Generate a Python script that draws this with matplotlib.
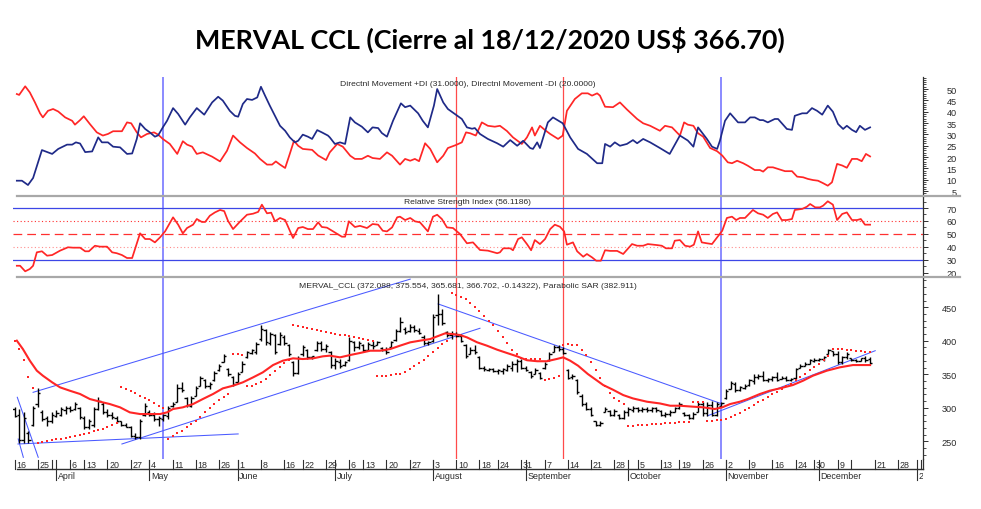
import numpy as np
import pandas as pd
import matplotlib
matplotlib.use("Agg")
import matplotlib.pyplot as plt
from matplotlib.lines import Line2D
from matplotlib.ticker import MultipleLocator
from matplotlib.transforms import offset_copy

# ---------------- text ----------------
TITLE = "MERVAL CCL (Cierre al 18/12/2020 US$ 366.70)"
DI_LABEL = "Directnl Movement +DI (31.0000), Directnl Movement -DI (20.0000)"
RSI_LABEL = "Relative Strength Index (56.1186)"
PRICE_LABEL = "MERVAL_CCL (372.088, 375.554, 365.681, 366.702, -0.14322), Parabolic SAR (382.911)"

# ---------------- calendar ----------------
# (dates after the last bar are projected as plain weekdays by the charting tool)
START = "2020-03-16"
END = "2021-01-08"
HOLIDAYS = ["2020-03-23", "2020-03-24", "2020-03-31", "2020-04-09", "2020-04-10",
            "2020-05-01", "2020-05-25", "2020-06-15", "2020-07-09", "2020-07-10",
            "2020-08-17", "2020-10-12", "2020-11-23", "2020-12-07", "2020-12-08"]
MONTH_NAMES = {1: "2021", 4: "April", 5: "May", 6: "June", 7: "July", 8: "August",
               9: "September", 10: "October", 11: "November", 12: "December"}
HIDDEN_WEEK_LABELS = ["2020-03-30", "2020-12-14", "2021-01-04"]

# vertical marker lines (date, colour)
VLINE_DATES = ["2020-05-07", "2020-08-10", "2020-09-11", "2020-10-30"]
VLINE_COLORS = ["#8a8aff", "#ff4a4a", "#ff4a4a", "#8a8aff"]

# ---------------- price (OHLC, one per trading day from 16/03/2020) ----------------
OPEN = [298, 290, 252, 262, 275, 305, 294, 285, 280, 288,
        290, 296, 299, 298, 300, 285, 272, 275, 298, 306,
        293, 290, 285, 280, 274, 271, 258, 257, 290, 294,
        290, 283, 284, 288, 302, 309, 330, 314, 303, 318,
        333, 341, 333, 341, 356, 369, 358, 346, 339, 354,
        376, 382, 383, 402, 416, 396, 408, 395, 406, 393,
        368, 352, 380, 387, 376, 386, 396, 388, 384, 364,
        368, 364, 372, 398, 390, 394, 387, 394, 393, 389,
        386, 391, 401, 415, 418, 414, 420, 415, 406, 396,
        399, 438, 440, 413, 408, 410, 407, 393, 380, 386,
        376, 360, 357, 358, 355, 355, 357, 360, 366, 370,
        360, 354, 350, 352, 359, 371, 384, 390, 388, 356,
        346, 342, 318, 305, 298, 280, 275, 294, 295, 290,
        290, 285, 293, 297, 299, 296, 298, 296, 299, 295,
        290, 291, 294, 299, 292, 289, 285, 293, 305, 292,
        304, 290, 302, 314, 328, 336, 327, 330, 334, 340,
        346, 348, 342, 343, 346, 343, 345, 342, 344, 360,
        363, 366, 370, 372, 373, 381, 385, 380, 368, 376,
        374, 372, 370, 374, 372.088]
HIGH = [301, 298, 293, 266, 303, 330, 296, 288, 293, 296,
        301, 303, 303, 309, 301, 288, 283, 301, 316, 308,
        298, 293, 288, 281, 278, 273, 263, 283, 307, 296,
        293, 288, 291, 303, 308, 336, 338, 316, 318, 333,
        348, 343, 338, 355, 365, 380, 360, 348, 353, 370,
        385, 388, 398, 423, 418, 413, 410, 413, 408, 395,
        370, 378, 393, 388, 378, 400, 400, 395, 385, 375,
        373, 370, 405, 400, 400, 395, 398, 400, 400, 390,
        390, 400, 418, 435, 420, 425, 423, 419, 408, 400,
        440, 470, 447, 415, 415, 413, 410, 395, 390, 393,
        378, 363, 360, 360, 358, 360, 365, 370, 373, 373,
        363, 355, 360, 353, 368, 383, 393, 393, 390, 358,
        350, 343, 320, 308, 301, 281, 281, 301, 296, 298,
        291, 296, 301, 303, 301, 301, 301, 301, 301, 296,
        293, 296, 301, 308, 293, 291, 293, 308, 308, 308,
        310, 308, 308, 328, 340, 338, 333, 335, 343, 350,
        350, 355, 345, 348, 353, 348, 348, 345, 360, 365,
        368, 373, 375, 375, 378, 388, 385, 385, 378, 383,
        375, 373, 375, 378, 375.554]
LOW = [286, 248, 248, 248, 273, 301, 281, 273, 278, 286,
       288, 291, 293, 296, 283, 268, 268, 271, 296, 291,
       286, 283, 278, 273, 271, 256, 253, 254, 288, 288,
       281, 273, 281, 283, 301, 308, 323, 301, 301, 318,
       333, 330, 328, 340, 355, 368, 348, 333, 338, 353,
       375, 380, 380, 400, 393, 393, 380, 393, 393, 378,
       348, 350, 378, 373, 373, 385, 385, 383, 360, 358,
       360, 363, 370, 385, 388, 383, 385, 388, 393, 385,
       380, 390, 400, 413, 410, 413, 413, 410, 393, 393,
       398, 423, 423, 405, 403, 405, 398, 375, 380, 380,
       358, 355, 355, 353, 350, 350, 355, 355, 353, 358,
       355, 345, 350, 343, 358, 370, 383, 385, 380, 343,
       343, 321, 303, 296, 288, 273, 273, 293, 288, 288,
       283, 283, 288, 293, 293, 293, 293, 293, 293, 288,
       286, 288, 293, 298, 288, 283, 283, 293, 288, 288,
       288, 288, 301, 313, 328, 323, 325, 328, 333, 335,
       343, 340, 338, 340, 340, 343, 340, 340, 343, 360,
       363, 365, 368, 370, 370, 380, 378, 365, 365, 373,
       370, 368, 370, 368, 365.681]
CLOSE = [288, 252, 285, 252, 300, 322, 284, 281, 290, 292,
         298, 300, 296, 305, 286, 272, 280, 298, 310, 294,
         290, 286, 281, 275, 272, 258, 256, 280, 303, 290,
         284, 285, 289, 300, 306, 330, 326, 304, 315, 330,
         345, 333, 336, 352, 362, 377, 350, 336, 350, 366,
         383, 386, 395, 418, 398, 410, 384, 408, 396, 380,
         352, 374, 390, 376, 377, 397, 388, 392, 364, 370,
         363, 368, 400, 390, 396, 386, 395, 392, 398, 386,
         383, 398, 415, 428, 413, 421, 416, 412, 396, 398,
         435, 440, 426, 408, 410, 407, 400, 378, 387, 383,
         360, 358, 358, 355, 356, 358, 362, 366, 370, 360,
         357, 347, 357, 345, 366, 380, 390, 388, 382, 345,
         348, 324, 306, 298, 290, 275, 278, 298, 290, 295,
         285, 294, 298, 300, 296, 298, 296, 299, 296, 290,
         291, 294, 299, 305, 290, 285, 291, 305, 292, 304,
         290, 306, 307, 325, 337, 326, 331, 333, 341, 346,
         348, 342, 343, 346, 342, 345, 342, 343, 358, 363,
         366, 371, 372, 373, 376, 386, 380, 368, 376, 380,
         372, 370, 374, 372, 366.702]

# Parabolic SAR, one value per trading day
SAR = [400, 388, 371, 346, 329,
       248, 249.5, 250.5, 251.5, 253, 254, 255.5, 257, 258.5, 260, 261.5, 263, 265, 267, 269, 271.5, 274.5, 278,
       331, 328, 325, 322, 318, 315, 311, 307, 303, 300,
       254, 258, 262, 266, 271, 276, 281, 287, 293, 299, 305, 311, 316, 321,
       381, 380, 379,
       332, 333, 335, 338, 343, 349, 355, 361, 367, 372,
       423, 422, 420.5, 419, 417.5, 416, 414.5, 413, 411.5, 410, 409, 408, 407, 406, 404.5, 403, 401.5, 400,
       347, 347.5, 348, 349, 350, 351, 354, 358, 362, 367, 372, 377, 383, 389, 395, 400,
       471, 469, 466, 462, 457, 451, 444, 437, 430, 423, 415, 406, 396, 387, 380, 375, 373, 373, 373, 373,
       342, 343.5, 345, 347,
       394, 395, 394, 393, 386, 379, 368, 356, 344, 332, 322, 315, 310, 306,
       273, 273.5, 274, 274.5, 275, 275.5, 276, 276.5, 277, 277.5, 278, 278.5, 279, 279.5,
       309, 309, 308,
       281, 281, 281.5, 282, 283, 286, 289, 292, 296, 300, 304, 308, 312, 316, 320, 324, 328, 332, 336,
       341, 346, 351, 356, 361, 366, 372, 378,
       388, 388, 387.5, 387, 386, 385.5, 385, 384, 382.911]

# moving average (red line): (trading-day index, value)
MA = [(0.5, 400.2), (1.8, 387.7), (3.3, 370.3), (4.8, 355.4), (6.1, 347.9), (8.1, 338.0), (9.8, 330.5),
      (11.9, 325.5), (14.1, 320.6), (16.2, 313.1), (18.4, 309.1), (20.5, 305.6), (22.7, 300.7),
      (24.8, 293.2), (27.0, 290.7), (29.1, 290.7), (31.3, 290.7), (32.8, 293.2), (34.1, 298.2),
      (36.2, 300.7), (38.4, 305.6), (40.5, 313.1), (42.7, 320.6), (44.8, 329.0), (47.0, 333.0),
      (49.1, 338.0), (51.3, 345.4), (53.4, 352.9), (55.6, 363.8), (57.7, 370.3), (59.9, 373.8),
      (62.0, 372.8), (64.2, 373.8), (66.3, 376.8), (67.8, 377.8), (70.0, 375.3), (72.2, 378.8),
      (74.3, 381.8), (76.5, 385.2), (78.6, 385.2), (80.8, 387.7), (82.9, 392.7), (85.1, 397.7),
      (87.2, 400.2), (89.4, 402.6), (90.9, 406.6), (92.6, 411.1), (94.1, 410.1), (95.8, 408.6),
      (97.3, 405.1), (99.5, 397.7), (101.6, 392.7), (103.8, 386.7), (105.9, 381.8), (108.1, 376.8),
      (110.2, 371.0), (112.4, 369.5), (114.5, 369.5), (116.7, 373.0), (118.0, 375.3), (119.5, 370.3),
      (121.2, 362.8), (123.3, 350.4), (125.3, 340.5), (126.6, 334.0), (128.7, 327.0), (130.9, 319.0),
      (133.0, 314.0), (136.0, 309.1), (138.8, 306.5), (141.0, 303.1), (143.1, 303.1), (145.9, 301.7),
      (148.1, 300.7), (150.6, 298.2), (152.2, 300.7), (153.9, 305.6), (156.0, 309.1), (157.7, 313.1),
      (160.3, 320.6), (162.4, 325.5), (164.6, 329.0), (167.4, 334.0), (169.6, 340.5), (171.7, 347.9),
      (174.7, 355.4), (177.5, 360.4), (180.3, 363.8), (182.4, 363.8), (184.0, 363.8)]

# hand-drawn trend lines: ((day, value), (day, value))
TRENDLINES = [((4.0, 323.1), (85.1, 492.0)),
              ((23.1, 246.0), (100.1, 418.7)),
              ((0.75, 246.0), (48.1, 261.0)),
              ((0.6, 315.7), (5.1, 226.1)),
              ((0.8, 253.4), (1.9, 226.1)),
              ((91.1, 455.0), (152.2, 305.7)),
              ((149.1, 288.2), (185.1, 385.2))]

# Directional movement (+DI, -DI): (day, value)
DI_PLUS = [(0.5, 9.6), (1.6, 9.6), (2.9, 7.7), (4.0, 10.8), (5.9, 23.1), (8.1, 21.4), (9.4, 23.6),
           (11.3, 25.5), (12.4, 25.5), (13.2, 26.5), (14.1, 26.0), (15.2, 22.2), (16.7, 22.5),
           (18.0, 28.7), (18.8, 26.5), (20.1, 26.5), (21.2, 24.6), (22.7, 24.3), (24.2, 21.4),
           (25.3, 21.6), (26.3, 28.0), (27.0, 34.9), (28.1, 32.4), (29.1, 30.9), (30.2, 29.0),
           (30.9, 29.6), (31.9, 33.1), (32.8, 36.0), (34.1, 41.6), (35.2, 39.0), (36.7, 34.3),
           (37.7, 37.5), (39.2, 41.6), (40.8, 38.7), (42.5, 44.1), (43.8, 46.6), (44.8, 44.9),
           (46.3, 40.4), (47.4, 38.2), (48.1, 37.8), (49.1, 43.4), (50.0, 45.6), (51.1, 45.2),
           (52.2, 46.3), (53.0, 51.0), (53.9, 47.0), (54.9, 42.7), (56.0, 38.2), (57.1, 33.8),
           (58.2, 31.6), (59.2, 28.7), (60.3, 26.5), (61.0, 27.2), (62.0, 29.9), (63.1, 29.0),
           (64.0, 28.0), (65.1, 31.9), (66.1, 30.9), (67.4, 29.5), (67.8, 28.7), (68.9, 25.8),
           (70.0, 26.5), (71.1, 25.8), (72.2, 37.5), (73.2, 35.3), (74.7, 33.4), (76.0, 30.9),
           (77.0, 33.1), (78.2, 32.8), (79.0, 30.6), (80.1, 29.0), (81.4, 36.0), (83.1, 43.7),
           (84.0, 42.0), (85.1, 42.7), (86.8, 39.3), (87.8, 36.0), (88.9, 33.1), (90.2, 42.7),
           (90.9, 50.0), (92.2, 44.1), (93.2, 41.2), (94.7, 39.0), (96.2, 36.8), (97.3, 33.1),
           (98.4, 32.5), (99.0, 32.8), (100.1, 30.2), (101.8, 28.0), (103.8, 26.1), (105.1, 24.6),
           (106.6, 27.5), (108.1, 25.0), (109.4, 27.2), (110.9, 24.0), (111.5, 23.6), (112.4, 26.5),
           (113.0, 24.0), (114.7, 35.3), (115.8, 37.5), (117.9, 34.9), (119.5, 28.7), (121.2, 23.6),
           (123.1, 21.4), (125.3, 17.3), (126.4, 17.3), (127.0, 25.8), (128.1, 24.6), (129.1, 26.5),
           (130.2, 25.0), (131.7, 25.8), (133.0, 27.5), (133.9, 26.1), (135.2, 28.0), (136.7, 26.5),
           (138.8, 24.0), (140.9, 21.4), (143.1, 29.5), (144.8, 27.3), (146.0, 24.6), (147.0, 33.1),
           (148.9, 28.0), (150.0, 24.6), (151.1, 23.6), (151.7, 27.2), (152.8, 36.0), (153.9, 39.3),
           (155.6, 35.3), (157.1, 35.3), (158.2, 37.5), (159.2, 37.5), (160.3, 36.3), (161.0, 36.3),
           (162.0, 35.3), (163.5, 36.8), (164.2, 36.8), (166.1, 32.4), (167.2, 32.0), (167.8, 38.2),
           (169.4, 39.3), (170.4, 39.3), (171.5, 41.6), (172.6, 40.4), (173.7, 38.7), (174.9, 42.7),
           (176.0, 40.0), (177.1, 34.6), (178.2, 32.4), (179.0, 33.8), (180.1, 32.0), (181.0, 31.0),
           (181.8, 33.8), (182.9, 32.0), (184.0, 33.1)]
DI_MINUS = [(0.5, 47.8), (1.0, 47.4), (2.3, 51.2), (3.3, 48.5), (4.4, 44.1), (5.5, 39.3), (6.1, 37.5),
            (7.2, 40.4), (8.3, 41.2), (9.4, 40.1), (10.9, 37.5), (12.4, 36.0), (13.0, 34.3), (14.1, 36.3),
            (14.9, 38.0), (16.2, 34.6), (17.7, 30.9), (19.0, 29.5), (20.1, 30.2), (21.2, 31.4),
            (23.1, 31.4), (24.2, 35.3), (25.1, 34.9), (26.3, 30.9), (27.2, 28.7), (28.5, 30.2),
            (30.0, 30.9), (30.9, 29.9), (31.9, 28.0), (33.4, 25.8), (35.0, 21.4), (36.2, 27.0),
            (37.1, 25.5), (38.2, 24.6), (39.2, 21.4), (40.5, 22.1), (42.5, 20.2), (44.2, 18.1),
            (45.7, 22.8), (47.0, 29.5), (48.5, 26.5), (50.0, 24.0), (51.7, 21.6), (52.8, 19.2),
            (54.3, 16.7), (55.4, 16.7), (56.2, 18.1), (57.1, 16.7), (58.2, 15.2), (59.2, 21.4),
            (60.1, 27.2), (61.0, 25.0), (62.0, 23.6), (64.0, 23.2), (65.3, 20.7), (67.0, 18.7),
            (67.8, 22.1), (69.4, 25.8), (70.6, 24.6), (72.2, 20.6), (73.2, 19.2), (74.7, 19.2),
            (76.0, 20.6), (77.0, 19.6), (78.6, 19.2), (80.1, 22.1), (81.2, 20.6), (82.9, 16.7),
            (84.0, 19.2), (85.1, 18.4), (86.1, 19.2), (87.0, 18.2), (88.3, 26.1), (89.4, 23.6),
            (90.9, 17.7), (92.2, 20.6), (93.2, 24.0), (94.9, 25.3), (96.2, 26.5), (97.1, 30.9),
            (98.0, 30.5), (99.2, 29.5), (100.5, 35.3), (101.8, 33.8), (103.3, 33.4), (104.4, 33.8),
            (105.9, 31.5), (107.2, 28.7), (109.1, 25.8), (110.2, 28.7), (111.3, 33.1), (111.9, 29.5),
            (113.0, 33.8), (114.1, 31.9), (115.2, 30.2), (116.9, 28.0), (117.9, 29.5), (118.8, 40.4),
            (120.5, 45.6), (122.0, 48.1), (123.3, 48.1), (124.2, 47.1), (125.3, 48.1), (125.9, 47.1),
            (127.0, 42.2), (128.7, 42.0), (130.2, 44.1), (131.7, 41.0), (133.9, 36.8), (135.2, 34.9),
            (136.7, 33.8), (138.8, 31.6), (139.9, 33.8), (141.4, 33.1), (143.1, 29.5), (144.0, 35.3),
            (144.8, 34.3), (146.0, 33.8), (147.0, 30.5), (148.1, 29.0), (149.6, 24.0), (151.1, 22.6),
            (152.2, 20.7), (153.4, 17.7), (154.3, 17.3), (155.4, 18.4), (156.7, 17.3), (157.7, 16.2),
            (159.2, 14.3), (160.3, 14.3), (161.0, 13.6), (162.0, 15.5), (163.1, 15.5), (164.2, 14.8),
            (165.7, 13.8), (167.2, 13.8), (168.3, 11.4), (169.6, 11.1), (170.6, 10.4), (171.7, 9.9),
            (172.8, 9.6), (173.9, 8.5), (174.9, 7.4), (175.8, 8.9), (176.9, 17.0), (178.0, 16.3),
            (179.0, 15.3), (180.1, 19.2), (181.2, 19.2), (182.2, 18.2), (183.1, 21.4), (184.0, 20.3)]

# Relative Strength Index: (day, value)
RSI = [(0.5, 25.3), (1.2, 25.3), (2.3, 21.0), (3.3, 22.8), (4.0, 25.3), (4.8, 35.7), (5.9, 36.5),
       (7.0, 33.1), (8.1, 33.6), (9.8, 37.0), (11.5, 39.6), (12.6, 39.3), (14.1, 39.3), (15.2, 36.5),
       (16.0, 36.5), (17.3, 40.8), (18.4, 40.1), (19.9, 40.1), (21.0, 35.7), (22.0, 35.0), (23.1, 33.6),
       (24.2, 31.3), (25.3, 31.3), (27.0, 50.4), (28.1, 46.0), (29.1, 46.0), (30.2, 43.4), (31.3, 47.3),
       (32.4, 52.0), (34.1, 62.8), (35.2, 57.1), (36.2, 50.4), (37.1, 54.5), (38.4, 57.1), (39.2, 61.5),
       (40.3, 59.2), (41.0, 59.2), (42.0, 64.0), (43.1, 66.6), (44.2, 68.5), (45.1, 67.6), (45.9, 60.2),
       (47.0, 53.7), (48.5, 59.5), (50.0, 64.8), (51.3, 65.6), (52.4, 67.0), (53.2, 72.6), (54.3, 65.9),
       (55.2, 66.4), (56.0, 59.7), (57.1, 62.3), (58.2, 60.7), (59.9, 46.8), (61.0, 54.5), (62.0, 55.3),
       (63.1, 53.7), (64.2, 53.7), (65.3, 58.9), (66.1, 55.3), (67.2, 54.8), (68.3, 52.4), (69.4, 49.9),
       (70.4, 47.8), (71.1, 47.8), (71.9, 59.7), (73.2, 55.3), (74.3, 56.2), (75.8, 54.5), (77.0, 57.6),
       (78.2, 57.1), (79.2, 52.4), (80.1, 51.9), (81.2, 55.0), (82.3, 62.8), (82.9, 63.3), (84.0, 60.7),
       (85.1, 62.3), (86.1, 59.7), (87.2, 58.9), (88.9, 51.9), (90.0, 63.3), (90.9, 64.8), (91.9, 61.5),
       (93.0, 55.0), (94.3, 54.5), (95.8, 49.9), (97.3, 42.7), (98.6, 43.4), (100.1, 37.5), (101.8, 37.0),
       (102.3, 36.5), (103.8, 35.0), (104.4, 35.7), (105.1, 38.8), (106.6, 38.8), (107.2, 37.3),
       (108.3, 46.0), (109.1, 47.3), (110.2, 42.1), (111.1, 37.3), (111.9, 45.2), (113.0, 42.1),
       (114.1, 46.0), (115.2, 53.7), (116.2, 57.1), (117.3, 55.5), (118.2, 51.9), (118.8, 41.6),
       (120.1, 43.4), (121.0, 36.5), (122.3, 32.3), (123.1, 34.4), (124.2, 31.8), (125.1, 29.2),
       (126.1, 29.2), (127.0, 37.3), (128.1, 36.8), (129.6, 36.8), (130.9, 34.4), (132.8, 42.1),
       (133.9, 40.8), (135.2, 40.8), (136.2, 42.1), (138.2, 41.3), (139.2, 40.8), (140.1, 38.8),
       (141.4, 38.8), (142.0, 44.7), (143.1, 45.2), (144.2, 40.8), (145.3, 40.1), (146.1, 41.6),
       (147.0, 51.9), (147.8, 43.4), (148.9, 42.7), (150.0, 42.1), (151.1, 47.3), (152.2, 52.4),
       (153.2, 62.3), (154.3, 63.3), (155.2, 60.7), (156.0, 62.3), (157.1, 62.3), (158.8, 68.5),
       (159.9, 65.9), (161.0, 64.8), (162.0, 62.3), (163.1, 65.4), (164.0, 66.6), (165.0, 60.7),
       (166.1, 60.7), (167.2, 61.5), (167.8, 68.5), (169.4, 69.3), (170.4, 71.0), (171.1, 73.1),
       (172.2, 70.5), (173.2, 70.5), (173.9, 71.8), (174.9, 75.2), (176.0, 72.6), (176.9, 60.7),
       (178.0, 65.4), (179.0, 66.6), (180.1, 60.7), (181.2, 60.7), (182.0, 61.5), (182.9, 57.1),
       (184.0, 57.1)]
RSI_LEVELS = [70, 60, 50, 40, 30]

# ---------------- layout (pixels of a 981x510 canvas) ----------------
W, H = 981, 510
X_LEFT, X_RIGHT = 13, 923
DAY0_PX, DAY_PX = 14.5, 4.65
XLIM = ((X_LEFT - DAY0_PX) / DAY_PX, (X_RIGHT - DAY0_PX) / DAY_PX)

RED = "#ff2626"
NAVY = "#1f2a88"
BLUE = "#4a5aff"
AXC = "#303030"
TXT = "#2a2a2a"
FONT = ["Liberation Sans", "DejaVu Sans"]

fig = plt.figure(figsize=(W / 100, H / 100), dpi=100)
fig.patch.set_facecolor("white")


def panel(top, bottom):
    return fig.add_axes([X_LEFT / W, 1 - bottom / H, (X_RIGHT - X_LEFT) / W, (bottom - top) / H])


def style(ax, ylim, major, minor):
    ax.set_xlim(*XLIM)
    ax.set_ylim(*ylim)
    ax.patch.set_alpha(0)
    for s in ("left", "top", "bottom"):
        ax.spines[s].set_visible(False)
    ax.spines["right"].set_color(AXC)
    ax.spines["right"].set_linewidth(0.9)
    ax.set_xticks([])
    ax.yaxis.tick_right()
    ax.set_yticks(major)
    ax.set_yticklabels([str(v) for v in major])
    ax.yaxis.set_minor_locator(MultipleLocator(minor))
    ax.tick_params(axis="y", which="major", length=3.6, width=0.7, color=AXC,
                   labelsize=6.6, labelcolor=TXT, pad=20.6)
    ax.tick_params(axis="y", which="minor", length=2.0, width=0.6, color=AXC)
    for lab in ax.get_yticklabels():
        lab.set_horizontalalignment("right")
        lab.set_fontfamily(FONT)


cal = pd.bdate_range(START, END)
cal = cal[~cal.isin(pd.to_datetime(HOLIDAYS))]
cal_index = {d: i for i, d in enumerate(cal)}
vline_days = [cal_index[pd.Timestamp(d)] for d in VLINE_DATES]


def vlines(ax):
    for d, c in zip(vline_days, VLINE_COLORS):
        ax.axvline(d, color=c, lw=1.4 if c == "#8a8aff" else 0.9, zorder=1)


# ---------------- DI panel ----------------
ax1 = panel(78, 197)
style(ax1, (2.86, 55.3), list(range(5, 55, 5)), 1)
vlines(ax1)
x, y = zip(*DI_MINUS)
ax1.plot(x, y, color=RED, lw=1.25, zorder=3)
x, y = zip(*DI_PLUS)
ax1.plot(x, y, color=NAVY, lw=1.25, zorder=3)
ax1.text(0.5, 1 - 7 / 119, DI_LABEL, transform=ax1.transAxes, ha="center", va="center",
         fontsize=6.1, color=TXT, family=FONT)

# ---------------- RSI panel ----------------
ax2 = panel(197, 278)
style(ax2, (16.6, 79.3), list(range(20, 80, 10)), 5)
vlines(ax2)
ax2.axhline(RSI_LEVELS[0], color="#3c46e6", lw=0.9, zorder=2)
ax2.axhline(RSI_LEVELS[4], color="#3c46e6", lw=0.9, zorder=2)
ax2.axhline(RSI_LEVELS[1], color="#ff3030", lw=0.8, ls=(0, (1, 2.2)), zorder=2)
ax2.axhline(RSI_LEVELS[3], color="#ff8c8c", lw=0.8, ls=(0, (1, 2.2)), zorder=2)
ax2.axhline(RSI_LEVELS[2], color="#ff3030", lw=0.9, ls=(0, (7, 4)), zorder=2)
x, y = zip(*RSI)
ax2.plot(x, y, color=RED, lw=1.25, zorder=3)
ax2.text(0.5, 1 - 6 / 81, RSI_LABEL, transform=ax2.transAxes, ha="center", va="center",
         fontsize=6.1, color=TXT, family=FONT)

# ---------------- price panel ----------------
ax3 = panel(278, 460)
style(ax3, (223.6, 495.2), list(range(250, 500, 50)), 10)
vlines(ax3)
for (x0, y0), (x1, y1) in TRENDLINES:
    ax3.plot([x0, x1], [y0, y1], color=BLUE, lw=0.75, zorder=2)
idx = np.arange(len(HIGH))
ax3.vlines(idx, LOW, HIGH, color="black", lw=1.0, zorder=3)
ax3.hlines(OPEN, idx - 0.5, idx, color="black", lw=1.0, zorder=3)
ax3.hlines(CLOSE, idx, idx + 0.5, color="black", lw=1.0, zorder=3)
x, y = zip(*MA)
ax3.plot(x, y, color=RED, lw=1.5, zorder=4)
ax3.plot(idx, SAR, ls="none", marker="s", ms=1.9, mew=0, color=RED, zorder=5)
ax3.text(0.5, 1 - 9 / 182, PRICE_LABEL, transform=ax3.transAxes, ha="center", va="center",
         fontsize=6.1, color=TXT, family=FONT)

# ---------------- date strip ----------------
ax4 = panel(460, 490)
ax4.set_xlim(*XLIM)
ax4.set_ylim(30, 0)
ax4.axis("off")
ax4.plot([XLIM[0] + 0.8, XLIM[1]], [10, 10], color=AXC, lw=1.0, clip_on=False)
ax4.plot([XLIM[1], XLIM[1]], [0, 10], color=AXC, lw=0.9, clip_on=False)
n_axis = int(np.floor(XLIM[1])) + 1
span = pd.Series(cal[:n_axis])
wk = span.dt.to_period("W")
mo = span.dt.to_period("M")
week_first = np.where(wk.ne(wk.shift()))[0]
month_first = np.where(mo.ne(mo.shift()))[0][1:]
lab_tr = offset_copy(ax4.transData, fig=fig, x=1.6, y=0, units="dots")
hidden = set(pd.to_datetime(HIDDEN_WEEK_LABELS))
for i in week_first:
    ax4.plot([i, i], [0.5, 10], color=AXC, lw=0.8)
    if span[i] not in hidden:
        ax4.text(i, 5.2, str(span[i].day), transform=lab_tr, ha="left", va="center",
                 fontsize=6.4, color=TXT, family=FONT, clip_on=True)
for i in month_first:
    ax4.plot([i, i], [0.5, 21], color=AXC, lw=0.8)
    ax4.text(i, 16.8, MONTH_NAMES[span[i].month], transform=lab_tr, ha="left", va="center",
             fontsize=6.4, color=TXT, family=FONT, clip_on=True)

# ---------------- separators ----------------
for ypx in (197, 278):
    fig.add_artist(Line2D([17 / W, 960 / W], [1 - ypx / H] * 2, color="#a8a8a8", lw=1.6))

# ---------------- title ----------------
t = fig.text(490 / W, 1 - 40 / H, TITLE, ha="center", va="center", fontsize=20,
             fontweight="bold", family=["Lato", "DejaVu Sans"], color="black")
fig.canvas.draw()
w = t.get_window_extent().width
t.set_fontsize(20 * 590 / w)

fig.savefig("out.png", dpi=100, facecolor="white")
